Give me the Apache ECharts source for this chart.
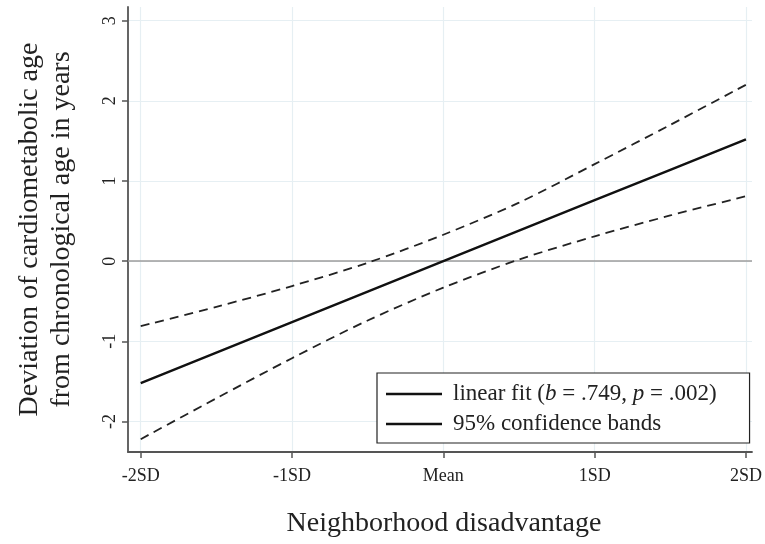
<!DOCTYPE html>
<html>
<head>
<meta charset="utf-8">
<script src="https://cdn.jsdelivr.net/npm/echarts@6/dist/echarts.min.js"></script>
<style>
  html, body { margin: 0; padding: 0; background: #fff; }
  #chart { width: 765px; height: 544px; }
</style>
</head>
<body>
<div id="chart"></div>
<script>
// positions in SD units
const xPoints = [-2, -1.5, -1, -0.5, 0, 0.5, 1, 1.5, 2]
const fitValues = [-1.52, -1.14, -0.76, -0.38, 0, 0.38, 0.76, 1.14, 1.52]
const upperBand = [-0.81, -0.57, -0.31, -0.02, 0.33, 0.73, 1.21, 1.70, 2.20]
const lowerBand = [-2.22, -1.71, -1.21, -0.74, -0.33, 0.02, 0.31, 0.57, 0.81]

const xTicks = [-2, -1, 0, 1, 2]
const xTickLabels = ['-2SD', '-1SD', 'Mean', '1SD', '2SD']
const yTicks = [-2, -1, 0, 1, 2, 3]

const serif = '"Liberation Serif", "DejaVu Serif", serif'
const gridColor = '#e6eff3'

function pairs(ys) {
  return xPoints.map((x, i) => [x, ys[i]])
}

var myChart = echarts.init(document.getElementById('chart'))
myChart.setOption({
  animation: false,
  backgroundColor: '#fff',
  grid: {
    left: 128,
    right: 13,
    top: 7,
    bottom: 92,
  },
  xAxis: {
    type: 'value',
    min: -2.084,
    max: 2.04,
    name: 'Neighborhood disadvantage',
    nameLocation: 'middle',
    nameGap: 58,
    nameTextStyle: { fontFamily: serif, fontSize: 28, color: '#222', padding: [0, 0, 0, 8] },
    axisLine: { onZero: false, lineStyle: { color: '#555', width: 1.8 } },
    axisTick: { length: 6, lineStyle: { color: '#555', width: 1.5 }, customValues: xTicks },
    axisLabel: {
      customValues: xTicks,
      margin: 15,
      fontFamily: serif,
      fontSize: 18,
      color: '#222',
      formatter: (v) => xTickLabels[xTicks.indexOf(Math.round(v))],
    },
    splitLine: { show: true, lineStyle: { color: gridColor, width: 1.2 } },
  },
  yAxis: {
    type: 'value',
    min: -2.38,
    max: 3.17,
    name: 'Deviation of cardiometabolic age\nfrom chronological age in years',
    nameLocation: 'middle',
    nameRotate: 90,
    nameGap: 50,
    nameTextStyle: { fontFamily: serif, fontSize: 28, lineHeight: 32, color: '#222' },
    axisLine: { show: true, onZero: false, lineStyle: { color: '#555', width: 1.8 } },
    axisTick: { show: true, length: 6, lineStyle: { color: '#555', width: 1.5 }, customValues: yTicks },
    axisLabel: {
      customValues: yTicks,
      rotate: 90,
      margin: 9,
      fontFamily: serif,
      fontSize: 18,
      color: '#222',
    },
    splitLine: { show: true, lineStyle: { color: gridColor, width: 1.2 } },
  },
  legend: {
    orient: 'vertical',
    left: 377,
    top: 373,
    padding: [9, 33, 7, 9],
    itemGap: 6,
    itemWidth: 56,
    itemHeight: 2.4,
    backgroundColor: '#fff',
    borderColor: '#222',
    borderWidth: 1.2,
    borderRadius: 0,
    textStyle: {
      fontFamily: serif,
      fontSize: 23,
      lineHeight: 24,
      color: '#222',
      padding: [0, 0, 0, 6],
      rich: {
        n: { fontFamily: serif, fontSize: 23, color: '#222' },
        i: { fontFamily: serif, fontSize: 23, color: '#222', fontStyle: 'italic' },
      },
    },
    formatter: (name) => {
      if (name === 'linear fit') {
        return '{n|linear fit (}{i|b}{n| = .749, }{i|p}{n| = .002)}'
      }
      return '{n|' + name + '}'
    },
    data: [
      { name: 'linear fit', icon: 'rect', itemStyle: { color: '#111' } },
      { name: '95% confidence bands', icon: 'rect', itemStyle: { color: '#111' } },
    ],
  },
  series: [
    {
      name: 'linear fit',
      type: 'line',
      data: pairs(fitValues),
      symbol: 'none',
      z: 5,
      lineStyle: { color: '#111', width: 2.4 },
      itemStyle: { color: '#111' },
      markLine: {
        silent: true,
        symbol: 'none',
        label: { show: false },
        lineStyle: { color: '#9c9c9c', type: 'solid', width: 1.5 },
        data: [{ yAxis: 0 }],
        z: 2,
      },
    },
    {
      name: '95% confidence bands',
      type: 'line',
      data: pairs(upperBand),
      symbol: 'none',
      smooth: 0.3,
      lineStyle: { color: '#222', width: 1.8, type: [9, 6] },
      itemStyle: { color: '#222' },
    },
    {
      name: '95% confidence bands',
      type: 'line',
      data: pairs(lowerBand),
      symbol: 'none',
      smooth: 0.3,
      lineStyle: { color: '#222', width: 1.8, type: [9, 6] },
      itemStyle: { color: '#222' },
    },
  ],
})
</script>
</body>
</html>
